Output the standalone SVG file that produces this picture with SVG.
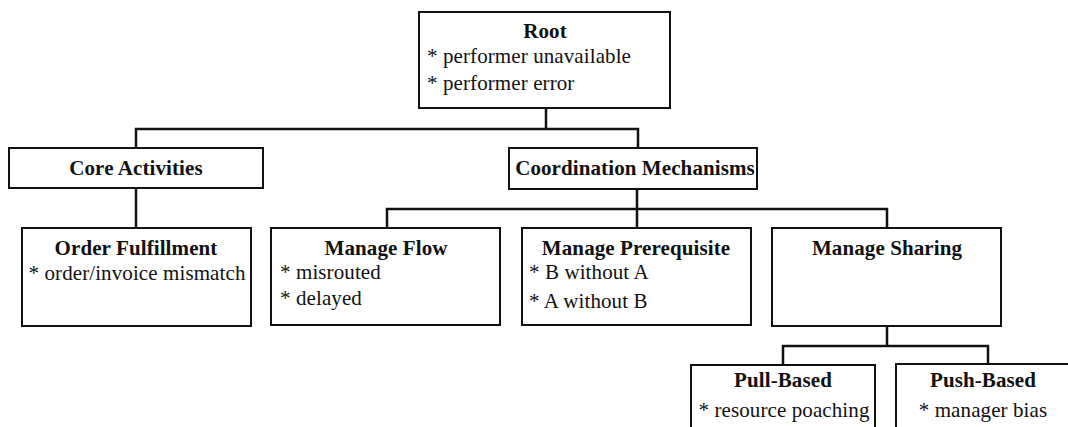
<svg xmlns="http://www.w3.org/2000/svg" width="1068" height="427" viewBox="0 0 1068 427">
  <style>
    .box { fill: #ffffff; stroke: #111111; stroke-width: 2; }
    .wire { fill: none; stroke: #111111; stroke-width: 2.5; stroke-linejoin: miter; }
    .title { font-family: "Liberation Serif", "Times New Roman", serif; font-weight: bold; font-size: 21px; letter-spacing: 0.1px; text-anchor: middle; fill: #111111; }
    .item { font-family: "Liberation Serif", "Times New Roman", serif; font-size: 21px; letter-spacing: 0.1px; fill: #111111; }
    .mid { text-anchor: middle; }
  </style>
  <rect width="1068" height="427" fill="#ffffff"/>

  <!-- tree connectors -->
  <g id="connectors">
    <path class="wire" d="M546,108 V129 M136,148 V129 H638 V148"/>
    <path class="wire" d="M136,188 V228"/>
    <path class="wire" d="M637,189 V209 M387,228 V209 H887 V228 M637,209 V228"/>
    <path class="wire" d="M887,326 V346 M783,365 V346 H988 V364"/>
  </g>

  <g id="root">
    <rect class="box" x="419" y="12" width="251" height="96"/>
    <text class="title" x="545" y="38">Root</text>
    <text class="item" x="427" y="63">* performer unavailable</text>
    <text class="item" x="427" y="90">* performer error</text>
  </g>

  <g id="core-activities">
    <rect class="box" x="9" y="148" width="254" height="40"/>
    <text class="title" x="136" y="175">Core Activities</text>
  </g>

  <g id="coordination-mechanisms">
    <rect class="box" x="509" y="148" width="248" height="41"/>
    <text class="title" x="635" y="175">Coordination Mechanisms</text>
  </g>

  <g id="order-fulfillment">
    <rect class="box" x="22" y="228" width="229" height="98"/>
    <text class="title" x="136" y="255">Order Fulfillment</text>
    <text class="item mid" x="137" y="280">* order/invoice mismatch</text>
  </g>

  <g id="manage-flow">
    <rect class="box" x="271" y="228" width="229" height="97"/>
    <text class="title" x="386" y="255">Manage Flow</text>
    <text class="item" x="280" y="279">* misrouted</text>
    <text class="item" x="280" y="305">* delayed</text>
  </g>

  <g id="manage-prerequisite">
    <rect class="box" x="522" y="228" width="229" height="97"/>
    <text class="title" x="636" y="255">Manage Prerequisite</text>
    <text class="item" x="529" y="279">* B without A</text>
    <text class="item" x="529" y="308">* A without B</text>
  </g>

  <g id="manage-sharing">
    <rect class="box" x="772" y="228" width="229" height="98"/>
    <text class="title" x="887" y="255">Manage Sharing</text>
  </g>

  <g id="pull-based">
    <rect class="box" x="691" y="365" width="184" height="80"/>
    <text class="title" x="783" y="387">Pull-Based</text>
    <text class="item mid" x="784" y="417">* resource poaching</text>
  </g>

  <g id="push-based">
    <rect class="box" x="896" y="364" width="180" height="80"/>
    <text class="title" x="983" y="387">Push-Based</text>
    <text class="item mid" x="983" y="417">* manager bias</text>
  </g>
</svg>
